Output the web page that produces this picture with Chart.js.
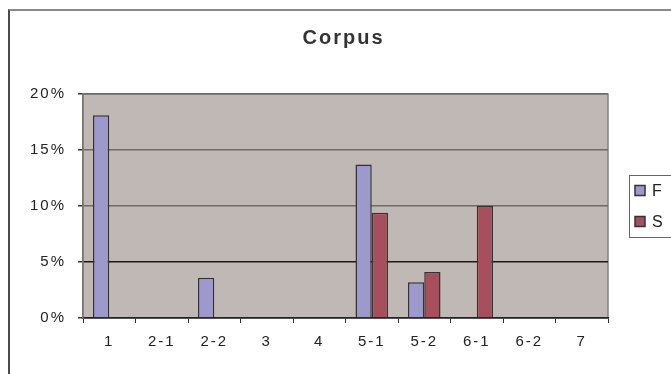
<!DOCTYPE html>
<html>
<head>
<meta charset="utf-8">
<script src="https://cdn.jsdelivr.net/npm/chart.js@4.4.1/dist/chart.umd.min.js"></script>
<style>
  html, body { margin: 0; padding: 0; background: #fff; overflow: hidden; }
  .wrap { position: relative; width: 671px; height: 374px; }
  .frame {
    position: absolute; left: 8px; top: 9px; width: 700px; height: 400px;
    border-top: 2px solid #8a8a8a; border-left: 2px solid #4a4a4a;
  }
  canvas { position: absolute; left: 0; top: 0; }
</style>
</head>
<body>
<div class="wrap">
  <div class="frame"></div>
  <canvas id="corpusChart" width="671" height="374"></canvas>
</div>
<script>
const categories = ['1', '2-1', '2-2', '3', '4', '5-1', '5-2', '6-1', '6-2', '7'];
const seriesF = [18.1, 0, 3.6, 0, 0, 13.7, 3.2, 0, 0, 0];
const seriesS = [0, 0, 0, 0, 0, 9.4, 4.1, 10.0, 0, 0];
const yMax = 20;
const yStep = 5;

const FONT = '"Liberation Sans", Arial, sans-serif';

// grey plot area + spaced out text, like the old excel picture
const plotBack = {
    id: 'plotBack',
    beforeDraw(chart) {
        const { ctx, chartArea } = chart;
        ctx.letterSpacing = '2px';
        ctx.save();
        ctx.fillStyle = '#c0b8b5';
        ctx.fillRect(chartArea.left, chartArea.top, chartArea.width, chartArea.height);
        ctx.strokeStyle = '#858080';
        ctx.lineWidth = 1.5;
        ctx.strokeRect(chartArea.left, chartArea.top, chartArea.width, chartArea.height);
        ctx.restore();
    }
};

// legend box on the right, half cut by the picture edge
const boxLegend = {
    id: 'boxLegend',
    afterDraw(chart) {
        const { ctx, chartArea } = chart;
        const mid = (chartArea.top + chartArea.bottom) / 2;
        const x = chartArea.right + 21;
        ctx.save();
        ctx.letterSpacing = '0px';
        ctx.strokeStyle = '#666';
        ctx.lineWidth = 1;
        ctx.strokeRect(x + 0.5, mid - 31 + 0.5, 60, 62);
        chart.data.datasets.forEach((ds, i) => {
            const y = mid - 15.5 + i * 31;
            ctx.fillStyle = ds.backgroundColor;
            ctx.fillRect(x + 6, y - 5, 10, 10);
            ctx.strokeStyle = '#333';
            ctx.lineWidth = 1.5;
            ctx.strokeRect(x + 6, y - 5, 10, 10);
            ctx.fillStyle = '#222';
            ctx.font = '16px ' + FONT;
            ctx.textBaseline = 'middle';
            ctx.fillText(ds.label, x + 23, y + 1);
        });
        ctx.restore();
    }
};

const ctx = document.getElementById('corpusChart').getContext('2d');
const myChart = new Chart(ctx, {
    type: 'bar',
    data: {
        labels: categories,
        datasets: [{
            label: 'F',
            data: seriesF,
            backgroundColor: '#9e99cc',
            borderColor: '#333',
            borderWidth: 1.5
        }, {
            label: 'S',
            data: seriesS,
            backgroundColor: '#a84f5e',
            borderColor: '#333',
            borderWidth: 1.5
        }]
    },
    options: {
        responsive: false,
        animation: false,
        layout: {
            padding: { left: 0, right: -16, top: 0, bottom: 13 }
        },
        datasets: {
            bar: { categoryPercentage: 0.62, barPercentage: 1 }
        },
        plugins: {
            legend: { display: false },
            tooltip: { enabled: false },
            title: {
                display: true,
                text: 'Corpus',
                color: '#333',
                font: { family: FONT, size: 20, weight: 'bold' },
                padding: { top: 26, bottom: 44 }
            }
        },
        scales: {
            x: {
                grid: {
                    display: true,
                    drawOnChartArea: false,
                    tickLength: 5,
                    color: '#333'
                },
                border: { color: '#222', width: 1.5 },
                ticks: {
                    color: '#222',
                    padding: 10,
                    maxRotation: 0,
                    font: { family: FONT, size: 15 }
                }
            },
            y: {
                min: 0,
                max: yMax,
                afterFit: (scale) => { scale.width = 83; },
                grid: {
                    tickLength: 5,
                    tickColor: '#333',
                    color: (c) => c.tick && c.tick.value === 5 ? '#1a1a1a' : '#6e6a69',
                    lineWidth: 1.5
                },
                border: { color: '#7a7575', width: 1.5 },
                ticks: {
                    stepSize: yStep,
                    color: '#222',
                    padding: 12,
                    font: { family: FONT, size: 15 },
                    callback: (v) => v + '%'
                }
            },
            // empty axis that only keeps the room for the legend box
            side: {
                type: 'linear',
                position: 'right',
                afterFit: (scale) => { scale.width = 79; },
                grid: { display: false },
                border: { display: false },
                ticks: { display: false }
            }
        }
    },
    plugins: [plotBack, boxLegend]
});
</script>
</body>
</html>
